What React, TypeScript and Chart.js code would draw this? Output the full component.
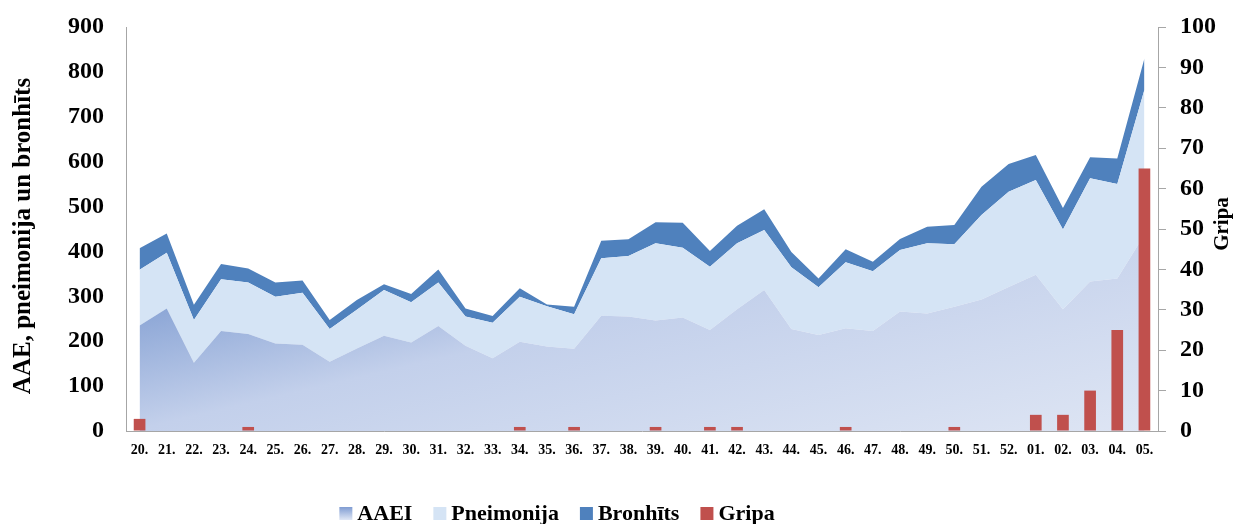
import React, { useEffect, useRef } from 'react';
import { Chart, registerables } from 'chart.js';

Chart.register(...registerables);

// ---- data ----
const weeks = [
  '20.', '21.', '22.', '23.', '24.', '25.', '26.', '27.', '28.', '29.', '30.',
  '31.', '32.', '33.', '34.', '35.', '36.', '37.', '38.', '39.', '40.', '41.',
  '42.', '43.', '44.', '45.', '46.', '47.', '48.', '49.', '50.', '51.', '52.',
  '01.', '02.', '03.', '04.', '05.',
];
const aaei = [
  235, 273, 152, 223, 216, 195, 192, 154, 184, 212, 197, 234, 190, 162, 199, 188,
  183, 257, 255, 246, 253, 225, 271, 314, 227, 214, 229, 223, 266, 262, 277, 293,
  321, 348, 271, 333, 340, 437,
];
const pneimonija = [
  124, 124, 95, 115, 115, 104, 116, 73, 86, 102, 90, 97, 65, 79, 100, 90,
  77, 128, 135, 172, 155, 141, 147, 134, 138, 106, 147, 133, 137, 156, 139, 188,
  212, 211, 178, 230, 210, 323,
];
const bronhits = [
  48, 43, 34, 34, 31, 32, 27, 20, 22, 13, 18, 29, 18, 15, 19, 4,
  17, 39, 37, 47, 56, 35, 39, 46, 34, 20, 29, 21, 25, 37, 43, 63,
  62, 56, 48, 47, 57, 70,
];
const gripa = [
  3, 0, 0, 0, 1, 0, 0, 0, 0, 0, 0, 0, 0, 0, 1, 0,
  1, 0, 0, 1, 0, 1, 1, 0, 0, 0, 1, 0, 0, 0, 1, 0,
  0, 4, 4, 10, 25, 65,
];
const seriesNames = ['AAEI', 'Pneimonija', 'Bronhīts', 'Gripa'];
const leftTitle = 'AAE, pneimonija un bronhīts';
const rightTitle = 'Gripa';
const leftTicks = { min: 0, max: 900, step: 100 };
const rightTicks = { min: 0, max: 100, step: 10 };

// ---- styles ----
const FONT = '"Liberation Serif", "Times New Roman", serif';
const COL_PNEU = '#d5e4f5';
const COL_BRON = '#4f81bd';
const COL_GRIPA = '#c0504d';
const AXIS_COL = '#a6a6a6';

function aaeiGradient(chart: any) {
  const { ctx, chartArea } = chart;
  if (!chartArea) return '#b5c6e6';
  const h = chartArea.bottom - chartArea.top;
  const x0 = chartArea.left;
  const y0 = chartArea.top + 0.67 * h;
  const g = ctx.createLinearGradient(x0, y0, x0 + 85, y0 + 0.9 * h);
  g.addColorStop(0, '#84a0d3');
  g.addColorStop(0.35, '#c3d0eb');
  g.addColorStop(1, '#dfe6f4');
  return g;
}

const decorPlugin = {
  id: 'decor',
  afterDraw(chart: any) {
    const { ctx, chartArea } = chart;
    ctx.save();
    ctx.fillStyle = '#000';
    // left title
    ctx.font = `bold 25px ${FONT}`;
    ctx.textAlign = 'center';
    ctx.textBaseline = 'middle';
    ctx.save();
    ctx.translate(24, (chartArea.top + chartArea.bottom) / 2 + 7);
    ctx.rotate(-Math.PI / 2);
    ctx.fillText(leftTitle, 0, 0);
    ctx.restore();
    // right title
    ctx.font = `bold 21px ${FONT}`;
    ctx.save();
    ctx.translate(chart.width - 13, (chartArea.top + chartArea.bottom) / 2 - 5);
    ctx.rotate(-Math.PI / 2);
    ctx.fillText(rightTitle, 0, 0);
    ctx.restore();

    // legend
    ctx.font = `bold 22px ${FONT}`;
    ctx.textAlign = 'left';
    ctx.textBaseline = 'alphabetic';
    const box = 13;
    const gap = 5;
    const spacing = 21;
    const widths = seriesNames.map((n) => ctx.measureText(n).width);
    const total =
      widths.reduce((a: number, w: number) => a + box + gap + w, 0) + spacing * (seriesNames.length - 1);
    let x = 557 - total / 2;
    const baseline = 520;
    const boxTop = baseline - box;
    seriesNames.forEach((name, i) => {
      let fill: any;
      if (i === 0) {
        const g = ctx.createLinearGradient(0, boxTop, 0, boxTop + box);
        g.addColorStop(0, '#7f9cd2');
        g.addColorStop(1, '#e0e7f5');
        fill = g;
      } else if (i === 1) {
        fill = COL_PNEU;
      } else if (i === 2) {
        fill = COL_BRON;
      } else {
        fill = COL_GRIPA;
      }
      ctx.fillStyle = fill;
      ctx.fillRect(x, boxTop, box, box);
      ctx.fillStyle = '#000';
      ctx.fillText(name, x + box + gap, baseline);
      x += box + gap + widths[i] + spacing;
    });
    ctx.restore();
  },
};

export default function App() {
  const ref = useRef<HTMLCanvasElement | null>(null);

  useEffect(() => {
    document.body.style.margin = '0';
    document.body.style.overflow = 'hidden';
    if (!ref.current) return;
    const chart = new Chart(ref.current, {
      type: 'bar',
      data: {
        labels: weeks,
        datasets: [
          {
            type: 'line',
            label: seriesNames[0],
            data: aaei,
            yAxisID: 'y',
            backgroundColor: (c: any) => aaeiGradient(c.chart),
            borderWidth: 0,
            pointRadius: 0,
            tension: 0,
            fill: 'origin',
            order: 1,
          } as any,
          {
            type: 'line',
            label: seriesNames[1],
            data: pneimonija,
            yAxisID: 'y',
            backgroundColor: COL_PNEU,
            borderWidth: 0,
            pointRadius: 0,
            tension: 0,
            fill: '-1',
            order: 1,
          } as any,
          {
            type: 'line',
            label: seriesNames[2],
            data: bronhits,
            yAxisID: 'y',
            backgroundColor: COL_BRON,
            borderWidth: 0,
            pointRadius: 0,
            tension: 0,
            fill: '-1',
            order: 1,
          } as any,
          {
            type: 'bar',
            label: seriesNames[3],
            data: gripa,
            yAxisID: 'y1',
            backgroundColor: COL_GRIPA,
            barPercentage: 0.43,
            categoryPercentage: 1,
            order: 0,
          } as any,
        ],
      },
      options: {
        animation: false,
        responsive: true,
        maintainAspectRatio: false,
        layout: { padding: { top: 27, left: 0, right: 0, bottom: 0 } },
        plugins: {
          legend: { display: false },
          tooltip: { enabled: false },
        },
        scales: {
          x: {
            offset: true,
            stacked: false,
            grid: { display: true, drawOnChartArea: false, drawTicks: false },
            border: { display: true, color: AXIS_COL, width: 1 },
            ticks: {
              autoSkip: false,
              maxRotation: 0,
              minRotation: 0,
              padding: 11,
              color: '#000',
              font: { family: FONT, size: 14, weight: 'bold' },
            },
            afterFit: (s: any) => {
              s.height = 93;
              s.paddingLeft = 0;
              s.paddingRight = 0;
            },
          },
          y: {
            position: 'left',
            stacked: true,
            min: leftTicks.min,
            max: leftTicks.max,
            grid: { display: true, drawOnChartArea: false, drawTicks: false },
            border: { display: true, color: AXIS_COL, width: 1 },
            ticks: {
              stepSize: leftTicks.step,
              padding: 22,
              color: '#000',
              font: { family: FONT, size: 24, weight: 'bold' },
            },
            afterFit: (s: any) => {
              s.width = 126;
              s.paddingTop = 0;
              s.paddingBottom = 0;
            },
          },
          y1: {
            position: 'right',
            min: rightTicks.min,
            max: rightTicks.max,
            grid: {
              display: true,
              drawOnChartArea: false,
              drawTicks: true,
              tickLength: 8,
              color: AXIS_COL,
            },
            border: { display: true, color: AXIS_COL, width: 1 },
            ticks: {
              stepSize: rightTicks.step,
              padding: 14,
              color: '#000',
              font: { family: FONT, size: 24, weight: 'bold' },
            },
            afterFit: (s: any) => {
              s.width = 78;
              s.paddingTop = 0;
              s.paddingBottom = 0;
            },
          },
        },
      } as any,
      plugins: [decorPlugin],
    });
    return () => chart.destroy();
  }, []);

  return (
    <div style={{ position: 'relative', width: 1236, height: 524 }}>
      <canvas ref={ref} />
    </div>
  );
}
